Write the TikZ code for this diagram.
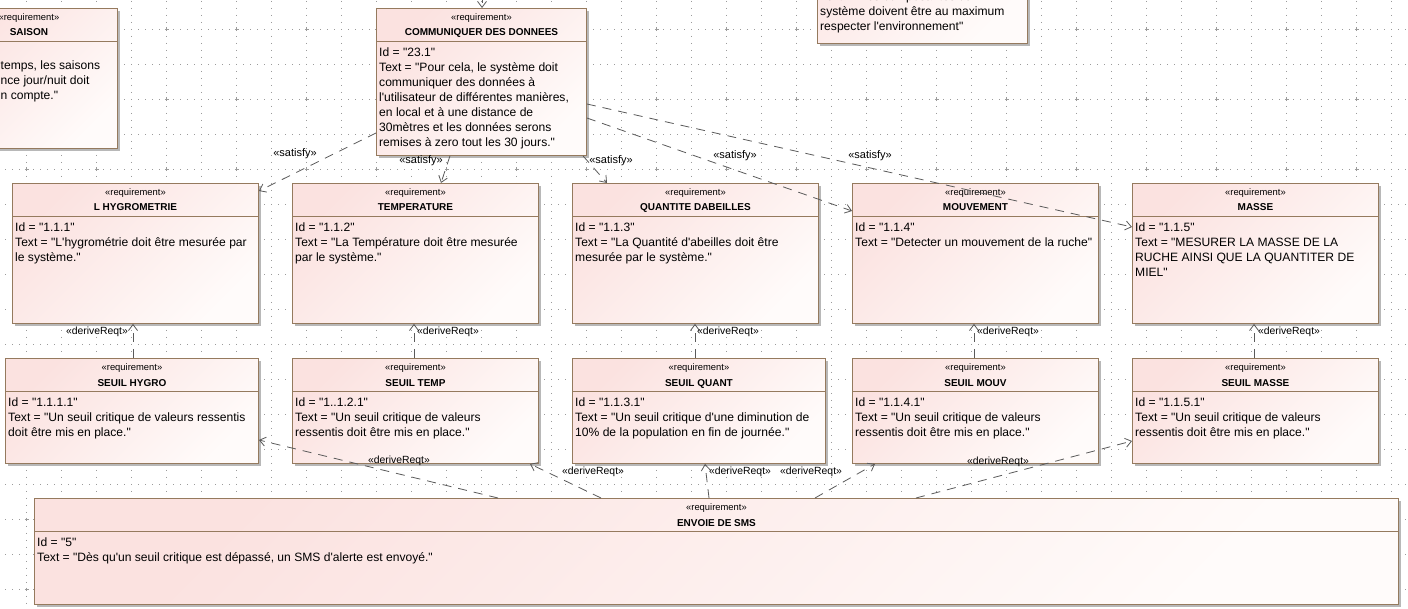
\documentclass[tikz,border=0pt]{standalone}
\usepackage{fontspec}
\newfontfamily\lsans{Liberation Sans}
\usetikzlibrary{arrows.meta,shadows,calc}
\definecolor{boxbrown}{RGB}{149,122,94}
\definecolor{pinkL}{RGB}{251,226,224}
\definecolor{pinkR}{RGB}{255,251,250}
\definecolor{linegray}{RGB}{90,90,90}
\definecolor{gridc}{RGB}{155,155,155}
\tikzset{
  reqbox/.style={draw=boxbrown, line width=0.9pt, left color=pinkL, right color=pinkR, shading angle=45,
    drop shadow={shadow xshift=2.5pt, shadow yshift=-2.5pt, opacity=1, fill=black!28}, inner sep=0pt},
  sepline/.style={draw=boxbrown, line width=0.9pt},
  stereo/.style={font=\lsans\fontsize{9.4}{11}\selectfont, inner sep=0pt},
  titlef/.style={font=\lsans\bfseries\fontsize{10}{12}\selectfont, inner sep=0pt},
  bodyf/.style={font=\lsans\fontsize{12.1}{15}\selectfont, inner sep=0pt, align=left,
    execute at begin node={\rule{0pt}{10pt}}},
  lbl/.style={font=\lsans\fontsize{10.4}{12}\selectfont, inner sep=0pt},
  satlbl/.style={font=\lsans\fontsize{11}{12}\selectfont, inner sep=0pt},
  conn/.style={draw=linegray, line width=0.8pt, dash pattern=on 9pt off 7pt, -{Straight Barb[length=6pt,width=9pt]}},
  gridline/.style={draw=gridc, line width=1pt, dash pattern=on 1pt off 6pt},
}
\newcommand{\reqbox}[7]{%
  \node[reqbox, minimum width=#4pt, minimum height=#5pt, anchor=north west] (#1) at (#2,#3) {};
  \draw[sepline] ([yshift=-33pt]#1.north west) -- ([yshift=-33pt]#1.north east);
  \node[stereo, anchor=base] (#1-st) at ([yshift=-12.5pt]#1.north) {«requirement»};
  \node[titlef, anchor=base] (#1-ti) at ([yshift=-28pt]#1.north) {#6};
  \node[bodyf, anchor=north west] (#1-bd) at ([xshift=3pt,yshift=-39.5pt]#1.north west) {#7};
}
\begin{document}
\begin{tikzpicture}[x=1pt,y=-1pt]
\useasboundingbox (0,0) rectangle (1408,609);
\clip (0,0) rectangle (1408,609);
\fill[white] (0,0) rectangle (1408,609);
% grid
\foreach \k in {0,...,40} \draw[gridline] ({26.7+35*\k},-6.2) -- ({26.7+35*\k},615);
\foreach \k in {-1,...,17} \draw[gridline] (-8.8,{29.3+35*\k}) -- (1415,{29.3+35*\k});
\foreach \a in {0,...,20} \foreach \b in {0,...,8}
  \draw[gridc, line width=0.8pt] ({26.7+70*\a-1.8},{29.3+70*\b}) -- ({26.7+70*\a+1.8},{29.3+70*\b})
    ({26.7+70*\a},{29.3+70*\b-1.8}) -- ({26.7+70*\a},{29.3+70*\b+1.8});

% partial boxes
\reqbox{saison}{-60}{8}{177}{140}{SAISON}{}
\node[bodyf, anchor=north west] (saison-txt) at (0.5,61) {temps, les saisons\\nce jour/nuit doit\\n compte."};
\node[reqbox, minimum width=210pt, minimum height=163pt, anchor=north west] (env) at (817,-120) {};
\node[bodyf, anchor=north west] (env-bd) at (820,-8) {Text = "Les composantes du\\système doivent être au maximum\\respecter l'environnement"};

\reqbox{comm}{376}{8}{210}{147}{COMMUNIQUER DES DONNEES}{Id = "23.1"\\Text = "Pour cela, le système doit\\communiquer des données à\\l'utilisateur de différentes manières,\\en local et à une distance de\\30mètres et les données serons\\remises à zero tout les 30 jours."}

\reqbox{hyg}{12}{183}{246}{140}{L HYGROMETRIE}{Id = "1.1.1"\\Text = "L'hygrométrie doit être mesurée par\\le système."}
\reqbox{temp}{292}{183}{246}{140}{TEMPERATURE}{Id = "1.1.2"\\Text = "La Température doit être mesurée\\par le système."}
\reqbox{quant}{572}{183}{246}{140}{QUANTITE DABEILLES}{Id = "1.1.3"\\Text = "La Quantité d'abeilles doit être\\mesurée par le système."}
\reqbox{mouv}{852}{183}{246}{140}{MOUVEMENT}{Id = "1.1.4"\\Text = "Detecter un mouvement de la ruche"}
\reqbox{masse}{1132}{183}{246}{140}{MASSE}{Id = "1.1.5"\\Text = "MESURER LA MASSE DE LA\\RUCHE AINSI QUE LA QUANTITER DE\\MIEL"}

\reqbox{shyg}{5}{358}{253}{105}{SEUIL HYGRO}{Id = "1.1.1.1"\\Text = "Un seuil critique de valeurs ressentis\\doit être mis en place."}
\reqbox{stemp}{292}{358}{246}{105}{SEUIL TEMP}{Id = "1..1.2.1"\\Text = "Un seuil critique de valeurs\\ressentis doit être mis en place."}
\reqbox{squant}{572}{358}{253}{105}{SEUIL QUANT}{Id = "1.1.3.1"\\Text = "Un seuil critique d'une diminution de\\10\% de la population en fin de journée."}
\reqbox{smouv}{852}{358}{246}{105}{SEUIL MOUV}{Id = "1.1.4.1"\\Text = "Un seuil critique de valeurs\\ressentis doit être mis en place."}
\reqbox{smasse}{1132}{358}{246}{105}{SEUIL MASSE}{Id = "1.1.5.1"\\Text = "Un seuil critique de valeurs\\ressentis doit être mis en place."}

\reqbox{sms}{34}{498}{1364}{106}{ENVOIE DE SMS}{Id = "5"\\Text = "Dès qu'un seuil critique est dépassé, un SMS d'alerte est envoyé."}

% connectors
\coordinate (topin) at (482,-6);
\draw[conn] (topin) -- (comm.north -| 482,0);
\draw[conn] (comm.west |- 0,133) -- (hyg.east |- 0,191);
\draw[conn] (comm.south -| 450,0) -- (temp.north -| 441,0);
\draw[conn] (comm.south -| 583,0) -- (quant.north -| 607,0);
\draw[conn] (comm.east |- 0,118) -- (mouv.west |- 0,211);
\draw[conn] (comm.east |- 0,104) -- (masse.west |- 0,227);

\draw[conn] (shyg.north -| 133,0) -- (hyg.south -| 133,0);
\draw[conn] (stemp.north -| 414,0) -- (temp.south -| 414,0);
\draw[conn] (squant.north -| 695,0) -- (quant.south -| 695,0);
\draw[conn] (smouv.north -| 974,0) -- (mouv.south -| 974,0);
\draw[conn] (smasse.north -| 1254,0) -- (masse.south -| 1254,0);

\draw[conn] (sms.north -| 498,0) -- (shyg.east |- 0,440);
\draw[conn] (sms.north -| 601,0) -- (stemp.south -| 530,0);
\draw[conn] (sms.north -| 709,0) -- (squant.south -| 705,0);
\draw[conn] (sms.north -| 815,0) -- (smouv.south -| 875,0);
\draw[conn] (sms.north -| 916,0) -- (smasse.west |- 0,441);

% labels
\node[satlbl] (sat1) at (295,154) {«satisfy»};
\node[satlbl] (sat2) at (421,161) {«satisfy»};
\node[satlbl] (sat3) at (611,161) {«satisfy»};
\node[satlbl] (sat4) at (735,156) {«satisfy»};
\node[satlbl] (sat5) at (870,156) {«satisfy»};

\node[lbl] (der1) at (97,332) {«deriveReqt»};
\node[lbl] (der2) at (448,332) {«deriveReqt»};
\node[lbl] (der3) at (728,332) {«deriveReqt»};
\node[lbl] (der4) at (1008,332) {«deriveReqt»};
\node[lbl] (der5) at (1289,332) {«deriveReqt»};
\node[lbl] (der6) at (399,461) {«deriveReqt»};
\node[lbl] (der7) at (593,472) {«deriveReqt»};
\node[lbl] (der8) at (740,472) {«deriveReqt»};
\node[lbl] (der9) at (811,472) {«deriveReqt»};
\node[lbl] (der10) at (998,462) {«deriveReqt»};
\end{tikzpicture}
\end{document}
